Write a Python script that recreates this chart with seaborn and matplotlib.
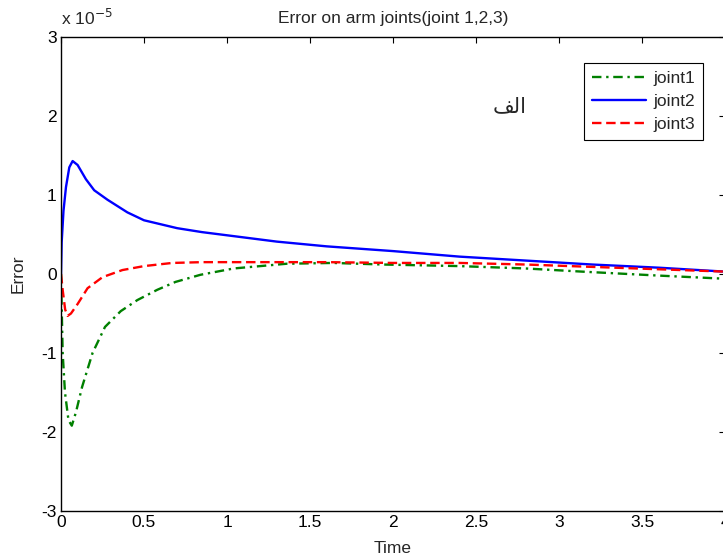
import matplotlib
matplotlib.use("Agg")
import matplotlib.pyplot as plt
import pandas as pd
import seaborn as sns

# values in units of 1e-5
t1 = [0, 0.005, 0.01, 0.024, 0.045, 0.065, 0.09, 0.127, 0.19, 0.265, 0.36, 0.46,
      0.58, 0.69, 0.84, 1.04, 1.36, 1.64, 1.94, 2.4, 2.8, 3.14, 3.6, 4.0]
joint1 = [0, -0.5, -1.0, -1.5, -1.85, -1.92, -1.75, -1.43, -1.0, -0.67, -0.47, -0.33,
          -0.2, -0.1, -0.01, 0.07, 0.13, 0.14, 0.12, 0.10, 0.07, 0.03, -0.02, -0.06]

t2 = [0, 0.004, 0.015, 0.03, 0.05, 0.07, 0.1, 0.15, 0.2, 0.28, 0.4, 0.5, 0.7, 0.85,
      1.0, 1.3, 1.6, 2.0, 2.4, 2.8, 3.2, 3.6, 4.0]
joint2 = [0, 0.4, 0.8, 1.1, 1.35, 1.43, 1.38, 1.2, 1.06, 0.94, 0.78, 0.68, 0.58, 0.53,
          0.49, 0.41, 0.35, 0.29, 0.22, 0.17, 0.12, 0.08, 0.03]

t3 = [0, 0.01, 0.025, 0.04, 0.06, 0.1, 0.16, 0.25, 0.37, 0.5, 0.67, 0.85, 1.2, 1.6,
      2.0, 2.4, 2.8, 3.2, 3.6, 4.0]
joint3 = [0, -0.2, -0.45, -0.53, -0.5, -0.38, -0.18, -0.04, 0.05, 0.1, 0.14, 0.15,
          0.15, 0.15, 0.14, 0.14, 0.12, 0.09, 0.06, 0.03]

x_ticks = [0, 0.5, 1, 1.5, 2, 2.5, 3, 3.5, 4]
x_labels = ["0", "0.5", "1", "1.5", "2", "2.5", "3", "3.5", "4"]
y_ticks = [-3, -2, -1, 0, 1, 2, 3]
y_labels = ["-3", "-2", "-1", "0", "1", "2", "3"]

df1 = pd.DataFrame({"Time": t1, "Error": joint1})
df2 = pd.DataFrame({"Time": t2, "Error": joint2})
df3 = pd.DataFrame({"Time": t3, "Error": joint3})

sns.set_theme(style="white")
plt.rcParams["font.family"] = ["Liberation Sans", "DejaVu Sans"]
FS = 12.5

fig = plt.figure(figsize=(7.23, 5.57), dpi=100)
ax = fig.add_axes([61 / 723, 46 / 557, 664 / 723, 474 / 557])

sns.lineplot(data=df1, x="Time", y="Error", ax=ax, color="#008000", lw=1.7,
             linestyle=(0, (4, 2, 1, 2)), label="joint1")
sns.lineplot(data=df2, x="Time", y="Error", ax=ax, color="#0000ff", lw=1.7,
             label="joint2")
sns.lineplot(data=df3, x="Time", y="Error", ax=ax, color="#ff0000", lw=1.7,
             linestyle=(0, (4, 2)), label="joint3")

ax.set_xlim(0, 4)
ax.set_ylim(-3, 3)
ax.set_xticks(x_ticks, x_labels)
ax.set_yticks(y_ticks, y_labels)
ax.tick_params(direction="in", length=4, width=0.8, top=True, right=True,
               labelsize=FS, colors="black", pad=3)
for s in ax.spines.values():
    s.set_color("black")
    s.set_linewidth(1.0)

ax.set_xlabel("Time", fontsize=FS, labelpad=8)
ax.set_ylabel("Error", fontsize=FS, labelpad=11)
ax.set_title("Error on arm joints(joint 1,2,3)", fontsize=FS, pad=10)
ax.text(0.0, 1.018, r"x 10$^{-5}$", transform=ax.transAxes, fontsize=FS,
        ha="left", va="bottom")

# الف (shaped presentation forms, visual order)
ax.text(2.70, 2.13, "\ufed2\ufedf\u0627", fontsize=15, family=["DejaVu Sans"],
        ha="center", va="center")

leg = ax.legend(loc="upper right", bbox_to_anchor=(0.967, 0.945), borderaxespad=0,
                fancybox=False, framealpha=1, edgecolor="black", fontsize=FS,
                handlelength=3.1, handletextpad=0.45, labelspacing=0.45,
                borderpad=0.45)
leg.get_frame().set_linewidth(0.8)

fig.savefig("out.png", dpi=100)
